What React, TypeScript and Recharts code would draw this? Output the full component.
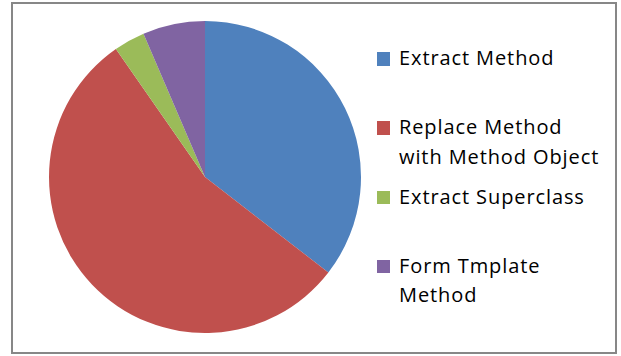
import { PieChart, Pie, Cell, Legend } from 'recharts'

const categories = ['Extract Method', 'Replace Method with Method Object', 'Extract Superclass', 'Form Tmplate Method']
const legendLines = [['Extract Method'], ['Replace Method', 'with Method Object'], ['Extract Superclass'], ['Form Tmplate', 'Method']]
const counts = [11, 17, 1, 2]
const colors = ['#4F81BD', '#C0504D', '#9BBB59', '#8064A2']

const data = categories.map((name, i) => ({ name, value: counts[i] }))

function LegendBox() {
  return (
    <div style={{ position: 'relative', width: 621, height: 356, fontFamily: '"Open Sans", sans-serif', fontSize: 20, letterSpacing: 0.9, color: '#000' }}>
      {legendLines.map((lines, i) => {
        const top = 52 + i * 69.3
        return (
          <div key={i}>
            <div style={{ position: 'absolute', left: 377, top, width: 13, height: 13.5, background: colors[i] }} />
            {lines.map((t, j) => (
              <div key={j} style={{ position: 'absolute', left: 399, top: top - 9.1 + j * 29.3, lineHeight: '30px', whiteSpace: 'nowrap' }}>{t}</div>
            ))}
          </div>
        )
      })}
    </div>
  )
}

export default function App() {
  return (
    <div style={{ position: 'absolute', left: 0, top: 0, width: 621, height: 356, background: '#fff' }}>
      <div style={{ position: 'absolute', left: 11, top: 2, width: 602, height: 348, border: '2px solid #878787' }} />
      <PieChart width={621} height={356} margin={{ top: 0, right: 0, bottom: 0, left: 0 }} style={{ position: 'absolute', left: 0, top: 0 }}>
        <Pie
          data={data}
          dataKey="value"
          nameKey="name"
          cx={205}
          cy={177}
          outerRadius={156}
          startAngle={90}
          endAngle={-270}
          stroke="none"
          isAnimationActive={false}
        >
          {data.map((d, i) => <Cell key={d.name} fill={colors[i]} />)}
        </Pie>
        <Legend
          layout="vertical"
          content={() => <LegendBox />}
          wrapperStyle={{ left: 0, top: 0, width: 621, height: 356, pointerEvents: 'none' }}
        />
      </PieChart>
    </div>
  )
}
